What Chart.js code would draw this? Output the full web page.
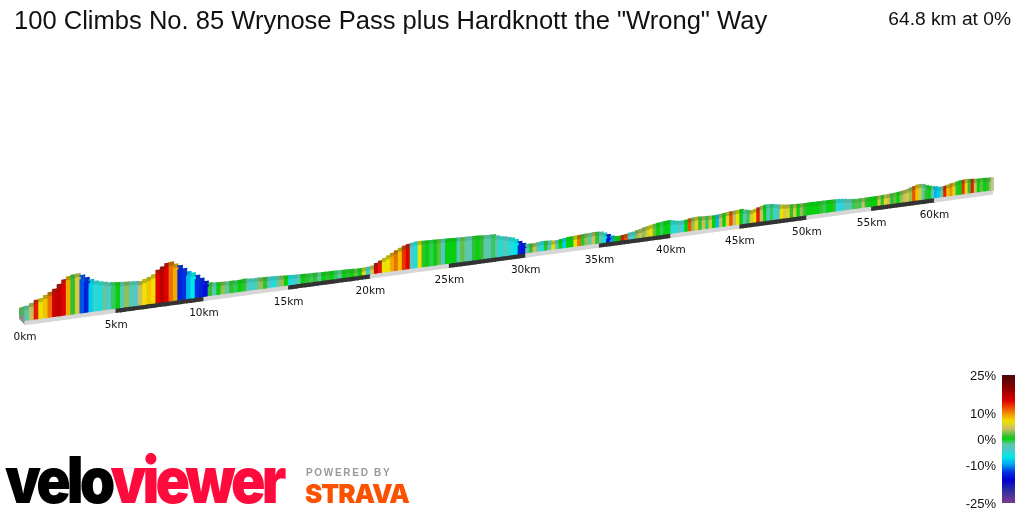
<!doctype html>
<html lang="en">
  <head>
    <meta charset="UTF-8" />
    <title>100 Climbs No. 85 Wrynose Pass plus Hardknott the "Wrong" Way</title>
    <script src="https://cdn.jsdelivr.net/npm/chart.js"></script>
    <style>
      html, body { margin: 0; background: white; }
      body { width: 1024px; height: 512px; position: relative; overflow: hidden; font-family: "Liberation Sans", Arial, sans-serif; color: #111; }
      #profile { position: absolute; left: 0; top: 0; }
      .abs { position: absolute; white-space: nowrap; }
      #title { left: 14px; top: 6px; font-size: 25.55px; }
      #total { right: 13px; top: 8px; font-size: 19.2px; }
      #gradeBar { left: 1002px; top: 375px; width: 13px; height: 128px; }
      .gradeLabel { right: 28px; font-size: 13px; transform: translateY(-50%); }
      #velo { left: 5px; top: 441px; font: 900 64px Inter, "Liberation Sans", sans-serif; letter-spacing: -4.4px; color: #000; transform: scaleX(0.89); transform-origin: left top; }
      #velo span { color: #ff0a3c; }
      #powered { left: 306px; top: 467px; font: bold 10px "Liberation Sans", sans-serif; letter-spacing: 1.7px; color: #9a9a9a; }
      #strava { left: 305px; top: 478px; font: 900 26px Inter, "Liberation Sans", sans-serif; letter-spacing: -1px; color: #fc5200; }
    </style>
  </head>
  <body>
    <canvas id="profile" width="1024" height="512"></canvas>
    <div class="abs" id="title">100 Climbs No. 85 Wrynose Pass plus Hardknott the "Wrong" Way</div>
    <div class="abs" id="total">64.8 km at 0%</div>
    <div class="abs" id="gradeBar"></div>
    <div class="abs" id="velo">velo<span>viewer</span></div>
    <div class="abs" id="powered">POWERED BY</div>
    <div class="abs" id="strava">STRAVA</div>

    <script>
      // distance at the start of each strip, km
      const stripKm = [
        0, 0.25, 0.5, 0.75, 1, 1.25, 1.5, 1.75, 2, 2.25, 2.5, 2.75, 3, 3.25, 3.5, 3.75, 4, 4.25, 4.5, 4.75,
        5, 5.25, 5.5, 5.75, 6, 6.25, 6.5, 6.75, 7, 7.25, 7.5, 7.75, 8, 8.25, 8.5, 8.75, 9, 9.25, 9.5, 9.75,
        10, 10.25, 10.5, 10.75, 11, 11.25, 11.5, 11.75, 12, 12.25, 12.5, 12.75, 13, 13.25, 13.5, 13.75, 14, 14.25, 14.5, 14.75,
        15, 15.25, 15.5, 15.75, 16, 16.25, 16.5, 16.75, 17, 17.25, 17.5, 17.75, 18, 18.25, 18.5, 18.75, 19, 19.25, 19.5, 19.75,
        20, 20.25, 20.5, 20.75, 21, 21.25, 21.5, 21.75, 22, 22.25, 22.5, 22.75, 23, 23.25, 23.5, 23.75, 24, 24.25, 24.5, 24.75,
        25, 25.25, 25.5, 25.75, 26, 26.25, 26.5, 26.75, 27, 27.25, 27.5, 27.75, 28, 28.25, 28.5, 28.75, 29, 29.25, 29.5, 29.75,
        30, 30.25, 30.5, 30.75, 31, 31.25, 31.5, 31.75, 32, 32.25, 32.5, 32.75, 33, 33.25, 33.5, 33.75, 34, 34.25, 34.5, 34.75,
        35, 35.25, 35.5, 35.75, 36, 36.25, 36.5, 36.75, 37, 37.25, 37.5, 37.75, 38, 38.25, 38.5, 38.75, 39, 39.25, 39.5, 39.75,
        40, 40.25, 40.5, 40.75, 41, 41.25, 41.5, 41.75, 42, 42.25, 42.5, 42.75, 43, 43.25, 43.5, 43.75, 44, 44.25, 44.5, 44.75,
        45, 45.25, 45.5, 45.75, 46, 46.25, 46.5, 46.75, 47, 47.25, 47.5, 47.75, 48, 48.25, 48.5, 48.75, 49, 49.25, 49.5, 49.75,
        50, 50.25, 50.5, 50.75, 51, 51.25, 51.5, 51.75, 52, 52.25, 52.5, 52.75, 53, 53.25, 53.5, 53.75, 54, 54.25, 54.5, 54.75,
        55, 55.25, 55.5, 55.75, 56, 56.25, 56.5, 56.75, 57, 57.25, 57.5, 57.75, 58, 58.25, 58.5, 58.75, 59, 59.25, 59.5, 59.75,
        60, 60.25, 60.5, 60.75, 61, 61.25, 61.5, 61.75, 62, 62.25, 62.5, 62.75, 63, 63.25, 63.5, 63.75, 64, 64.25, 64.5,
      ];
      // height of the front face, m
      const elevation = [
        110, 130, 155, 165, 190, 215, 240, 280, 320, 345, 355, 360, 340, 310, 285, 265, 250, 240, 230, 225,
        220, 215, 212, 210, 205, 200, 215, 230, 250, 290, 315, 345, 350, 325, 305, 270, 235, 215, 185, 150,
        115, 95, 88, 85, 85, 82, 82, 80, 82, 85, 80, 78, 78, 75, 75, 72, 70, 68, 65, 62,
        60, 58, 56, 55, 52, 50, 50, 48, 46, 45, 45, 44, 42, 42, 40, 38, 36, 35, 38, 40,
        45, 65, 85, 105, 125, 145, 165, 185, 200, 210, 218, 225, 224, 222, 220, 218, 217, 215, 214, 212,
        210, 208, 207, 205, 204, 203, 202, 200, 196, 194, 193, 190, 175, 162, 155, 145, 135, 115, 90, 65,
        52, 50, 52, 55, 60, 58, 55, 50, 50, 55, 60, 65, 68, 70, 72, 74, 76, 78, 80, 78,
        74, 60, 40, 22, 12, 10, 14, 18, 28, 32, 42, 50, 60, 68, 76, 82, 88, 92, 95, 98,
        90, 82, 78, 76, 80, 88, 92, 95, 92, 90, 88, 86, 85, 88, 92, 95, 100, 102, 106, 108,
        110, 100, 92, 88, 95, 105, 115, 122, 122, 118, 112, 106, 100, 96, 92, 90, 88, 87, 86, 86,
        86, 86, 85, 85, 84, 84, 83, 82, 82, 80, 78, 74, 68, 64, 60, 58, 58, 58, 58, 58,
        58, 60, 60, 62, 62, 64, 66, 68, 72, 76, 82, 90, 100, 108, 118, 120, 115, 100, 90, 82,
        75, 66, 65, 70, 78, 85, 90, 96, 102, 105, 106, 104, 100, 98, 96, 96, 94, 92, 90,
      ];
      // gradient of each strip, %
      const grade = [
        -2, 4, 14, 7, 8, 11, 16, 17, 15, 9, 1, 5, -12, -14, -8, -5, -6, -2, -4, -1,
        0, -3, 3, -3, -4, 4, 7, 8, 7, 15, 17, 15, 11, 9, -14, -13, -9, -7, -13, -14,
        -15, 1, -3, 0, 3, -2, 1, -1, 0, 1, -3, -5, -2, 3, 1, -4, -6, -2, 3, 0,
        -6, -5, -3, 0, 1, -1, 1, -2, 0, 1, 0, -1, -2, 0, 1, 0, 2, 0, 6, -5,
        5, 16, 14, 7, 7, 9, 11, 8, 13, 15, -4, -6, 7, 1, 0, -1, 0, 2, -4, 0,
        0, 0, -3, 2, -2, -3, 1, 0, 1, -2, -3, -1, -3, -6, -3, -5, -6, -7, -14, -15,
        -3, 1, 4, -3, -6, 1, -4, 7, -3, 0, -8, 0, 0, 7, 11, 1, 3, -2, 4, 1,
        -3, -6, -15, -10, 0, 0, 14, 12, -4, -5, 3, 4, 3, 5, 7, 2, 0, -1, 0, 0,
        -5, -6, -3, -5, 0, 12, 3, 6, 1, 4, -1, 5, 0, -9, 4, 0, 6, 12, 4, 7,
        0, -3, -1, 5, 7, 14, 4, 0, -4, -1, -5, -3, 7, 5, 6, 1, 5, 0, 3, 1,
        0, 0, 0, 0, 1, -1, 0, 0, 1, -5, -6, -4, -3, -3, -1, 2, -1, 4, 1, 0,
        0, 0, 5, 1, 6, 4, 1, 2, 0, 3, 4, 5, 3, 12, 8, 5, -2, 1, 0, -3,
        -9, -8, -2, 14, 8, 10, 6, 1, 0, 13, 6, 1, 14, 4, 0, 2, 0, 1, 3,
      ];
      const kmTicks = [0, 5, 10, 15, 20, 25, 30, 35, 40, 45, 50, 55, 60];
      const totalKm = 64.8;

      // colour ramp for the gradient
      const gradeStops = [25, 20, 15, 12, 10, 7, 4, 1, 0, -2, -4, -7, -10, -13, -16, -20, -25];
      const gradeColors = [
        "#4a0808", "#8a0000", "#e00000", "#ee5000", "#f09000", "#f0e000", "#c8c060", "#30c030", "#08d010",
        "#60c8a0", "#50c8c8", "#00e8e8", "#00a0f0", "#0030e0", "#0000d0", "#302ea0", "#7a3a90",
      ];
      const gradeLabels = [25, 10, 0, -10, -25];

      const TILT = -0.135; // baseline climbs to the right, px per px
      const ROOF = 40;
      const BAND = 35;

      function toRgb(hex) {
        return [1, 3, 5].map((i) => parseInt(hex.slice(i, i + 2), 16));
      }

      function gradeRgb(g) {
        for (let i = 1; i < gradeStops.length; i++) {
          if (g >= gradeStops[i]) {
            const t = (g - gradeStops[i]) / (gradeStops[i - 1] - gradeStops[i]);
            const a = toRgb(gradeColors[i]);
            const b = toRgb(gradeColors[i - 1]);
            return a.map((c, n) => Math.round(c + (b[n] - c) * t));
          }
        }
        return toRgb(gradeColors[gradeColors.length - 1]);
      }

      function css(rgb) {
        return `rgb(${rgb[0]},${rgb[1]},${rgb[2]})`;
      }

      // top face is duller than the front one
      function roofColor(g) {
        const rgb = gradeRgb(g);
        const k = g > 2 ? 0.72 : 0.85;
        return css([rgb[0] * k + 30 * (1 - k), rgb[1] * k + 80 * (1 - k), rgb[2] * k + 40 * (1 - k)].map(Math.round));
      }

      // the profile is seen at an angle, far kilometres get shorter
      class PerspectiveScale extends Chart.LinearScale {
        getPixelForValue(value) {
          const f = (v) => v / (1 + 0.00375 * v);
          return this.getPixelForDecimal(f(value) / f(this.max));
        }
        _computeLabelItems(chartArea) {
          const items = super._computeLabelItems(chartArea);
          items.forEach((item) => {
            const t = item.options.translation;
            t[1] += TILT * (t[0] - this.left);
          });
          return items;
        }
        // labels follow the tilt, so they leave the axis box
        _computeLabelArea() {
          return undefined;
        }
      }
      PerspectiveScale.id = "perspective";
      PerspectiveScale.defaults = Chart.LinearScale.defaults;
      Chart.register(PerspectiveScale);

      const shearPlugin = {
        id: "shear",
        beforeDatasetsDraw(chart) {
          const x = chart.scales.x;
          const y = chart.scales.y;
          const x0 = x.left;
          const ctx = chart.ctx;
          ctx.save();
          ctx.transform(1, TILT, 0, 1, 0, -TILT * x0);
          // end cap at the start of the ribbon
          const base = y.getPixelForValue(-BAND);
          const topL = y.getPixelForValue(elevation[0] + ROOF);
          ctx.fillStyle = "#8c8c8c";
          ctx.beginPath();
          ctx.moveTo(x0, topL);
          ctx.lineTo(x0 - 6, topL + 1);
          ctx.lineTo(x0 - 6, base - 7);
          ctx.lineTo(x0, base);
          ctx.fill();
          ctx.fillStyle = "#4fae5c";
          ctx.beginPath();
          ctx.moveTo(x0, topL);
          ctx.lineTo(x0 - 6, topL + 1);
          ctx.lineTo(x0 - 6, topL + 9);
          ctx.lineTo(x0, topL + 9);
          ctx.fill();
        },
        afterDatasetsDraw(chart) {
          const x = chart.scales.x;
          const y = chart.scales.y;
          const ctx = chart.ctx;
          // end cap at the finish
          const xEnd = x.getPixelForValue(totalKm);
          ctx.fillStyle = "#c4c498";
          ctx.fillRect(xEnd - 2, y.getPixelForValue(elevation[elevation.length - 1] + ROOF), 3, y.getPixelForValue(0) - y.getPixelForValue(elevation[elevation.length - 1] + ROOF));
          ctx.restore();
        },
      };

      const strips = stripKm.map((km) => km + 0.125);

      new Chart(document.getElementById("profile"), {
        type: "bar",
        data: {
          datasets: [
            {
              label: "Road",
              data: strips.map((km) => ({ x: km, y: -BAND })),
              backgroundColor: stripKm.map((km) => (Math.floor(km / 5) % 2 ? "#333333" : "#d6d6d6")),
            },
            {
              label: "Elevation",
              data: strips.map((km, i) => ({ x: km, y: elevation[i] })),
              backgroundColor: grade.map((g) => css(gradeRgb(g))),
            },
            {
              label: "Top face",
              data: strips.map((km) => ({ x: km, y: ROOF })),
              backgroundColor: grade.map(roofColor),
            },
          ],
        },
        options: {
          responsive: false,
          animation: false,
          events: [],
          layout: { autoPadding: false, padding: { left: 25, right: 31, top: 220, bottom: 162 } },
          datasets: { bar: { barThickness: "flex", categoryPercentage: 1, barPercentage: 1.12, clip: false } },
          plugins: { legend: { display: false }, tooltip: { enabled: false }, title: { display: false } },
          scales: {
            x: {
              type: "perspective",
              stacked: true,
              min: 0,
              max: totalKm,
              grid: { display: false, drawTicks: false },
              border: { display: false },
              afterBuildTicks: (scale) => {
                scale.ticks = kmTicks.map((v) => ({ value: v }));
              },
              ticks: {
                autoSkip: false,
                maxRotation: 0,
                minRotation: 0,
                padding: 6,
                color: "#111",
                font: { family: '"DejaVu Sans"', size: 10.5 },
                callback: (v) => v + "km",
              },
            },
            y: { display: false, stacked: true, min: -40, max: 1000 },
          },
        },
        plugins: [shearPlugin],
      });

      // gradient key
      const bar = document.getElementById("gradeBar");
      const pct = (g) => ((25 - g) / 50) * 100;
      bar.style.background =
        "linear-gradient(to bottom," +
        gradeStops.map((g, i) => `${gradeColors[i]} ${pct(g)}%`).join(",") +
        ")";
      gradeLabels.forEach((g) => {
        const el = document.createElement("div");
        el.className = "abs gradeLabel";
        el.textContent = g + "%";
        el.style.top = 375 + pct(g) * 1.28 + "px";
        document.body.appendChild(el);
      });
    </script>
  </body>
</html>
